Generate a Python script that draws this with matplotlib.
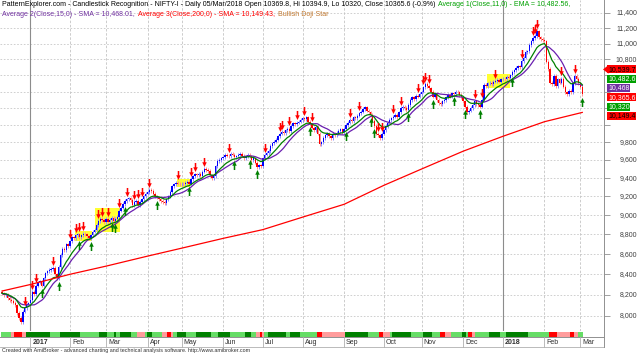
import numpy as np
import pandas as pd
import matplotlib
matplotlib.use("Agg")
import matplotlib.pyplot as plt
import matplotlib.transforms as mtransforms
from matplotlib.patches import Rectangle, Polygon
from matplotlib.lines import Line2D
from matplotlib.ticker import NullLocator

plt.rcParams['font.family'] = ['Liberation Sans', 'DejaVu Sans']

# ---- data (NIFTY-I daily closes, one list per month) ----
dec16 = [8215, 8195, 8205, 8170, 8150, 8140, 8125, 8100, 8030, 7980, 7945, 8040, 8075, 8110, 8120]
jan17 = [8150, 8230, 8210, 8290, 8320, 8330, 8290, 8360, 8410, 8430, 8440, 8450, 8460, 8400, 8360,
         8470, 8590, 8650, 8640, 8700, 8680]
feb17 = [8730, 8770, 8760, 8790, 8800, 8770, 8790, 8810, 8800, 8780, 8760, 8790, 8830, 8850, 8900,
         8940, 8960, 8950, 8930]
mar17 = [8960, 8930, 8950, 8970, 8940, 8960, 8980, 9050, 9080, 9120, 9150, 9170, 9180, 9160, 9110,
         9140, 9150, 9110, 9140, 9170, 9200, 9230]
apr17 = [9250, 9270, 9260, 9230, 9200, 9190, 9170, 9150, 9140, 9130, 9170, 9200, 9250, 9310, 9330,
         9350, 9340, 9330]
may17 = [9340, 9330, 9350, 9360, 9340, 9390, 9420, 9440, 9430, 9450, 9420, 9470, 9500, 9490, 9480,
         9430, 9400, 9420, 9530, 9590, 9600, 9620]
jun17 = [9630, 9660, 9650, 9640, 9670, 9660, 9630, 9640, 9660, 9670, 9650, 9620, 9640, 9660, 9640,
         9600, 9620, 9570, 9520, 9540, 9530]
jul17 = [9620, 9660, 9680, 9700, 9760, 9790, 9810, 9830, 9870, 9900, 9920, 9910, 9940, 9960, 9930,
         9990, 10020, 10010, 10030, 10040, 10060]
aug17 = [10080, 10070, 10090, 10040, 10010, 9970, 9940, 9980, 9900, 9780, 9800, 9850, 9880, 9900,
         9870, 9850, 9900, 9880, 9910, 9930, 9950, 9920]
sep17 = [9960, 10000, 10030, 10060, 10050, 10090, 10080, 10110, 10140, 10160, 10190, 10210, 10170,
         10150, 10120, 10050, 9990, 9900, 9880, 9850, 9900]
oct17 = [9940, 9990, 10030, 10060, 10080, 10100, 10120, 10090, 10150, 10200, 10220, 10200, 10180,
         10240, 10300, 10330, 10310, 10350, 10340, 10370]
nov17 = [10400, 10450, 10490, 10470, 10440, 10400, 10340, 10370, 10300, 10260, 10250, 10280, 10300,
         10330, 10360, 10340, 10380, 10370, 10400, 10390, 10360, 10330]
dec17 = [10280, 10220, 10150, 10170, 10200, 10240, 10280, 10250, 10240, 10220, 10300, 10480, 10470,
         10500, 10510, 10490, 10520, 10530, 10540, 10520, 10550]
jan18 = [10560, 10550, 10580, 10570, 10600, 10640, 10660, 10690, 10710, 10700, 10780, 10820, 10890,
         10900, 10980, 11030, 11070, 11100, 11160, 11080, 11060, 11040]
feb18 = [11030, 10770, 10680, 10510, 10490, 10590, 10470, 10550, 10510, 10560, 10460, 10390, 10370,
         10410, 10390, 10500, 10590, 10560, 10500]
mar18 = [10460, 10365.6]
first_open = 8230

month_labels = ["2017", "Feb", "Mar", "Apr", "May", "Jun", "Jul", "Aug", "Sep", "Oct", "Nov", "Dec",
                "2018", "Feb", "Mar"]
month_starts = [15, 36, 55, 77, 95, 117, 138, 159, 181, 202, 222, 244, 265, 287, 306]

# 200-day SMA read at the month starts
sma200_idx = [0, 15, 36, 55, 77, 95, 117, 138, 159, 181, 202, 222, 244, 265, 287, 307]
sma200_val = [8237, 8300, 8400, 8480, 8580, 8660, 8760, 8850, 8980, 9116, 9320, 9500, 9700, 9870,
              10040, 10149.4]

# pattern signals (bar index)
bear_signals = [12, 16, 18, 27, 36, 39, 41, 43, 51, 53, 56, 62, 66, 70, 72, 74, 78, 93, 100, 102,
                107, 120, 139, 147, 148, 152, 156, 160, 164, 184, 189, 199, 201, 207, 211, 220, 223,
                224, 226, 250, 254, 261, 275, 281, 282, 283, 296, 303]
bull_signals = [21, 30, 41, 47, 58, 60, 65, 82, 99, 123, 131, 135, 163, 182, 195, 197, 215, 228,
                239, 245, 253, 270, 307]
highlight_spans = [(39, 47), (50, 62), (93, 99), (257, 268)]

# trend ribbon: D dark green, G light green, P pink, R red
ribbon_runs = [("G", 5), ("P", 2), ("R", 4), ("P", 2), ("D", 13), ("G", 5), ("D", 11), ("G", 10),
               ("D", 4), ("G", 4), ("D", 1), ("G", 2), ("D", 6), ("G", 3), ("P", 4), ("G", 1),
               ("D", 3), ("G", 5), ("P", 3), ("R", 2), ("P", 1), ("G", 2), ("D", 5), ("G", 5),
               ("D", 8), ("G", 4), ("D", 6), ("G", 8), ("D", 3), ("G", 3), ("P", 2), ("R", 1),
               ("P", 1), ("G", 2), ("D", 10), ("G", 2), ("D", 5), ("G", 9), ("R", 3), ("P", 12),
               ("D", 12), ("G", 6), ("R", 2), ("P", 4), ("G", 1), ("D", 10), ("G", 6), ("D", 5),
               ("G", 4), ("R", 3), ("P", 3), ("G", 6), ("D", 2), ("G", 1), ("R", 2), ("P", 2),
               ("G", 7), ("D", 6), ("G", 3), ("D", 12), ("G", 11), ("R", 4), ("P", 7), ("R", 2),
               ("P", 2), ("G", 3)]
ribbon_colors = {"D": "#008000", "G": "#66dd66", "P": "#ff9c9c", "R": "#ff0000"}

value_labels = [("10,539.7", 10539.7, "#ff0000", "#000000"),
                ("10,482.6", 10482.6, "#00a000", "#ffffff"),
                ("10,468", 10468.0, "#7030a0", "#ffffff"),
                ("10,365.6", 10365.6, "#ff0000", "#ffffff"),
                ("10,320", 10320.0, "#00a000", "#ffffff"),
                ("10,149.4", 10149.4, "#ff0000", "#000000")]
ytick_vals = list(range(8000, 11401, 200))

closes = np.array(dec16 + jan17 + feb17 + mar17 + apr17 + may17 + jun17 + jul17 + aug17 + sep17 +
                  oct17 + nov17 + dec17 + jan18 + feb18 + mar18, dtype=float)
n = len(closes)
opens = np.concatenate([[first_open], closes[:-1]])
highs = np.maximum(opens, closes) * 1.002
lows = np.minimum(opens, closes) * 0.998
idx = np.arange(n)

FS = 5.0
W, H = 640, 354
fig = plt.figure(figsize=(W / 100, H / 100), dpi=100)
ax = fig.add_axes([0, (H - 331) / H, 604 / W, 331 / H])
ax.set_yscale('log')
ax.set_xlim(-1.06, 318.5)
ax.set_ylim(7861, 11575)
for s in ax.spines.values():
    s.set_visible(False)
ax.set_xticks([])
ax.yaxis.set_minor_locator(NullLocator())
ax.set_yticks(ytick_vals)
ax.yaxis.set_ticks_position('right')
ax.tick_params(axis='y', length=4, color='#909090', width=0.6, labelright=False, labelleft=False)

# grid
for v in ytick_vals:
    ax.axhline(v, color='#c8c8c8', lw=0.6, ls=(0, (2, 2)), zorder=0)
for i, lab in zip(month_starts, month_labels):
    if lab.isdigit():
        ax.axvline(i, color='#8c8c8c', lw=0.8, zorder=0)
    else:
        ax.axvline(i, color='#c4c4c4', lw=0.6, ls=(0, (3, 2)), zorder=0)

# highlighted pattern zones
for a, b in highlight_spans:
    lo = lows[a:b + 1].min()
    hi = highs[a:b + 1].max()
    ax.add_patch(Rectangle((a - 0.6, lo * 0.999), b - a + 1.2, hi * 1.001 - lo * 0.999,
                           facecolor='#ffff33', edgecolor='none', zorder=1))

# candles
up = closes >= opens
ax.vlines(idx, lows, highs, colors=np.where(up, '#8c8cff', '#ff9090'), lw=0.7, zorder=2)
ax.bar(idx, np.maximum(np.abs(closes - opens), 2), bottom=np.minimum(opens, closes), width=0.75,
       color=np.where(up, '#0000ff', '#ff0000'), lw=0, zorder=3)

# moving averages
s = pd.Series(closes)
ema11 = s.ewm(span=11, adjust=False).mean()
sma15 = s.rolling(15, min_periods=1).mean()
ax.plot(idx, sma15, color='#6a1fb0', lw=0.9, zorder=4)
ax.plot(idx, ema11, color='#008000', lw=0.9, zorder=4)
ax.plot(sma200_idx, sma200_val, color='#ff0000', lw=0.9, zorder=4)

# signal arrows
down_arrow = [(-0.17, 1), (0.17, 1), (0.17, 0.05), (0.5, 0.05), (0, -1), (-0.5, 0.05), (-0.17, 0.05)]
up_arrow = [(x, -y) for x, y in down_arrow]
above = ax.transData + mtransforms.ScaledTranslation(0, 0.055, fig.dpi_scale_trans)
below = ax.transData + mtransforms.ScaledTranslation(0, -0.055, fig.dpi_scale_trans)
ax.plot(bear_signals, highs[bear_signals], ls='none', marker=down_arrow, ms=6.5, color='#ff0000',
        mec='none', transform=above, zorder=5)
ax.plot(bull_signals, lows[bull_signals], ls='none', marker=up_arrow, ms=6.5, color='#008000',
        mec='none', transform=below, zorder=5)

fig.canvas.draw()
renderer = fig.canvas.get_renderer()

# stacked value boxes at the right edge
ys = [ax.transData.transform((0, v))[1] for _, v, _, _ in value_labels]
step = 9.3
mid = np.mean(ys)
box_y = [mid + step * (len(value_labels) - 1) / 2 - k * step for k in range(len(value_labels))]
for k, (txt, v, fc, tc) in enumerate(value_labels):
    yk = box_y[k]
    fig.text(608 / W, yk / H, txt, ha='left', va='center', fontsize=FS, color=tc, zorder=10,
             bbox=dict(boxstyle='square,pad=0.08', fc=fc, ec='none'))
    if k == 0:
        fig.add_artist(Polygon([(603 / W, yk / H), (608.5 / W, (yk + 4.3) / H), (608.5 / W, (yk - 4.3) / H)],
                               closed=True, fc=fc, ec='none', transform=fig.transFigure, zorder=10))

# right price scale labels (the ones under the value boxes stay hidden)
for v in ytick_vals:
    ypx = ax.transData.transform((0, v))[1]
    if min(box_y) - 10 < ypx < max(box_y) + 10:
        continue
    fig.text(637 / W, ypx / H, f"{v:,}", ha='right', va='center', fontsize=FS, color='#404040')

# ribbon
axr = fig.add_axes([0, (H - 337) / H, 604 / W, 5 / H], sharex=ax)
axr.set_ylim(0, 1)
axr.axis('off')
pos = 0
for code, cnt in ribbon_runs:
    axr.bar(np.arange(pos, pos + cnt), 1, width=1.0, color=ribbon_colors[code], lw=0)
    pos += cnt

# x axis band
fig.add_artist(Line2D([0, 604 / W], [(H - 337) / H] * 2, color='#909090', lw=0.7))
fig.add_artist(Line2D([0, 604 / W], [(H - 347) / H] * 2, color='#b0b0b0', lw=0.6))
fig.add_artist(Line2D([604 / W] * 2, [(H - 347) / H, 1], color='#909090', lw=0.7))
for i, lab in zip(month_starts, month_labels):
    xpx = ax.transData.transform((i, 9000))[0]
    fig.add_artist(Line2D([xpx / W] * 2, [(H - 347) / H, (H - 337) / H], color='#b0b0b0', lw=0.6))
    fig.text((xpx + 2) / W, (H - 342) / H, lab, ha='left', va='center', fontsize=FS,
             color='#303030', fontweight='bold' if lab.isdigit() else 'normal')

fig.text(2 / W, (H - 350.5) / H,
         "Created with AmiBroker - advanced charting and technical analysis software. http://www.amibroker.com",
         ha='left', va='center', fontsize=3.9, color='#303030')


# title lines with coloured parts
def write_line(parts, y_px):
    x = 2.0
    for txt, col in parts:
        t = fig.text(x / W, (H - y_px) / H, txt, ha='left', va='center', fontsize=FS, color=col)
        x = t.get_window_extent(renderer).x1 + 3.0


write_line([("PatternExplorer.com - Candlestick Recognition - NIFTY-I - Daily 05/Mar/2018 Open 10369.8, "
             "Hi 10394.9, Lo 10320, Close 10365.6 (-0.9%)", '#000000'),
            ("Average 1(Close,11,0) - EMA = 10,482.56,", '#00a000')], 5)
write_line([("Average 2(Close,15,0) - SMA = 10,468.01,", '#7030a0'),
            ("Average 3(Close,200,0) - SMA = 10,149.43,", '#ff0000'),
            ("Bullish Doji Star", '#c07830')], 14.5)

fig.savefig("out.png", dpi=100)
